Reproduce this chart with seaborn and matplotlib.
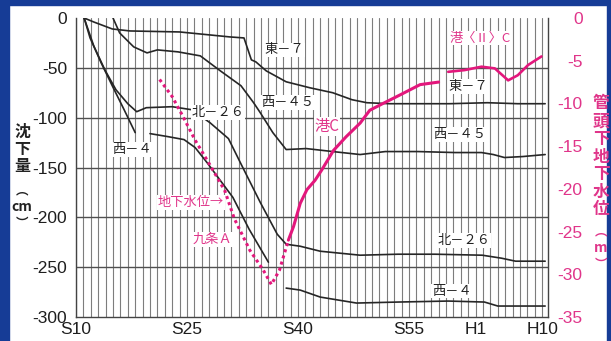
import numpy as np
import pandas as pd
import matplotlib
matplotlib.use("Agg")
import matplotlib.pyplot as plt
from matplotlib.patches import Rectangle
import seaborn as sns

# ---------------- data (years in western calendar; S10=1935, H1=1989) ----------------
tick_years = [1935, 1950, 1965, 1980, 1989, 1998]
tick_labels = ["S10", "S25", "S40", "S55", "H1", "H10"]
left_ticks = [0, -50, -100, -150, -200, -250, -300]
right_ticks = [0, -5, -10, -15, -20, -25, -30, -35]

# subsidence (cm)
higashi7_year = [1936.1, 1937.4, 1939.9, 1942.3, 1949.0, 1953.1, 1955.8, 1957.7, 1958.7, 1959.3,
                 1960.7, 1963.4, 1966.6, 1969.7, 1972.3, 1974.3, 1977.4, 1981.5, 1985.5, 1990.6,
                 1994.7, 1998.4]
higashi7_cm = [0, -4, -11, -13, -14, -17, -19, -20, -42, -44,
               -53, -64, -70, -75, -82, -85, -86, -86, -86, -85,
               -86, -86]

nishi45_year = [1940.0, 1940.9, 1942.8, 1944.6, 1946.0, 1948.8, 1951.8, 1954.5, 1957.3, 1959.0,
                1959.9, 1961.6, 1963.4, 1966.1, 1969.7, 1973.4, 1976.8, 1981.2, 1986.2, 1989.8,
                1991.4, 1992.9, 1995.4, 1998.4]
nishi45_cm = [0, -15, -29, -35, -32, -34, -38, -53, -68, -85,
              -95, -115, -132, -131, -134, -137, -134, -134, -135, -135,
              -137, -140, -139, -137]

kita26_year = [1936.1, 1937.4, 1938.9, 1940.4, 1942.0, 1943.2, 1944.5, 1948.0, 1950.6, 1953.1,
               1955.6, 1957.2, 1959.9, 1962.2, 1963.4, 1965.3, 1968.0, 1973.4, 1978.5, 1983.5,
               1989.9, 1992.5, 1994.4, 1998.4]
kita26_cm = [0, -28, -52, -72, -86, -94, -90, -89, -92, -105,
             -121, -145, -185, -217, -227, -229, -234, -238, -237, -237,
             -238, -241, -244, -244]

nishi4_a_year = [1936.1, 1936.9, 1938.4, 1939.9, 1941.5, 1943.0]
nishi4_a_cm = [0, -20, -45, -68, -92, -115]
nishi4_b_year = [1945.0, 1947.4, 1949.6, 1951.1, 1952.7, 1956.2, 1958.4, 1961.0]
nishi4_b_cm = [-116, -119, -122, -130, -145, -180, -212, -245]
nishi4_c_year = [1963.4, 1965.3, 1968.0, 1972.9, 1978.5, 1985.3, 1990.2, 1992.0, 1998.4]
nishi4_c_cm = [-271, -273, -280, -286, -285, -284, -285, -289, -289]

# groundwater level (m below surface)
kujoA_year = [1946.3, 1948.0, 1949.5, 1951.1, 1953.1, 1955.1, 1956.4, 1958.5, 1960.3, 1961.4,
              1962.5, 1963.7]
kujoA_m = [-7.2, -9.2, -11.6, -14.3, -17.2, -20.2, -23.5, -27.2, -29.5, -31.2,
           -29.5, -26.0]

minatoC_year = [1963.7, 1964.4, 1965.3, 1966.2, 1967.3, 1968.2, 1969.8, 1971.5, 1973.4, 1974.7,
                1976.5, 1978.8, 1981.5, 1984.0]
minatoC_m = [-26.0, -24.4, -21.7, -20.1, -19.0, -17.8, -15.5, -13.9, -12.3, -10.8,
             -10.0, -9.0, -7.8, -7.5]

minato2C_year = [1985.3, 1987.5, 1989.8, 1991.6, 1993.4, 1994.7, 1996.1, 1997.9]
minato2C_m = [-6.3, -6.1, -5.7, -5.9, -7.3, -6.7, -5.5, -4.5]

# ---------------- style ----------------
sns.set_theme(style="white")
plt.rcParams["font.family"] = ["Noto Sans CJK JP", "DejaVu Sans"]
NUM_FONT = ["Liberation Sans Narrow", "Liberation Sans", "DejaVu Sans"]
JP_FONT = ["Noto Sans CJK JP", "DejaVu Sans"]
PINK = "#e3177c"
PINK_TXT = "#e0358a"
BLACK = "#262626"

W, H = 611, 341
fig = plt.figure(figsize=(W / 100, H / 100), dpi=100)
fig.patch.set_facecolor("white")

# blue frame of the slide
fig.patches.append(Rectangle((0, 0), 9 / W, 1, transform=fig.transFigure, color="#163c96", zorder=0))
fig.patches.append(Rectangle((0, 1 - 5 / H), 1, 5 / H, transform=fig.transFigure, color="#163c96", zorder=0))
fig.patches.append(Rectangle((1 - 4 / W, 0), 4 / W, 1, transform=fig.transFigure, color="#163c96", zorder=0))

x0, x1, ytop, ybot = 76, 548, 18, 317
ax = fig.add_axes([x0 / W, (H - ybot) / H, (x1 - x0) / W, (ybot - ytop) / H])
ax.set_facecolor("white")
ax.set_xlim(1935, 1935 + (x1 - x0) / 7.4)
ax.set_ylim(-300, 0)

# grid
for yr in range(1935, 1999):
    ax.axvline(yr, color="#7d7d7d", lw=0.8, zorder=0.5)
for v in left_ticks[1:-1]:
    ax.axhline(v, color="#505050", lw=1.0, zorder=0.6)

def draw(a, xs, ys, **kw):
    df = pd.DataFrame({"x": xs, "y": ys})
    sns.lineplot(data=df, x="x", y="y", ax=a, sort=False, estimator=None, legend=False, **kw)

for xs, ys in [(higashi7_year, higashi7_cm), (nishi45_year, nishi45_cm), (kita26_year, kita26_cm),
               (nishi4_a_year, nishi4_a_cm), (nishi4_b_year, nishi4_b_cm), (nishi4_c_year, nishi4_c_cm)]:
    draw(ax, xs, ys, color=BLACK, lw=1.2, zorder=2)

ax.set_xticks(tick_years)
ax.set_xticklabels(tick_labels)
ax.set_yticks(left_ticks)
ax.set_yticklabels([str(v) for v in left_ticks])
ax.tick_params(axis="both", length=0, labelcolor="#1e1e1e")
ax.tick_params(axis="y", pad=6.5)
ax.tick_params(axis="x", pad=3.5)
for lab in ax.get_xticklabels() + ax.get_yticklabels():
    lab.set_fontfamily(NUM_FONT)
    lab.set_fontsize(12.5)
ax.set_xlabel("")
ax.set_ylabel("")
for s in ["left", "bottom", "right"]:
    ax.spines[s].set_color("#444444")
    ax.spines[s].set_linewidth(1.0)
ax.spines["top"].set_visible(False)

# right axis
ax2 = ax.twinx()
ax2.set_ylim(-35, 0)
draw(ax2, kujoA_year, kujoA_m, color=PINK, lw=2.2, linestyle=(0, (1, 1.1)), zorder=3)
draw(ax2, minatoC_year, minatoC_m, color=PINK, lw=2.2, zorder=3)
draw(ax2, minato2C_year, minato2C_m, color=PINK, lw=1.9, zorder=3)
ax2.set_yticks(right_ticks)
ax2.set_yticklabels([str(v) for v in right_ticks])
ax2.tick_params(axis="y", length=0, labelcolor=PINK_TXT, pad=25)
for lab in ax2.get_yticklabels():
    lab.set_fontfamily(NUM_FONT)
    lab.set_fontsize(12.5)
    lab.set_horizontalalignment("right")
ax2.set_ylabel("")
ax2.set_xlabel("")
for s in ["top", "left", "bottom", "right"]:
    ax2.spines[s].set_visible(False)

# series labels (cm coords on left axis)
box = dict(facecolor="white", edgecolor="none", pad=0.6)
black_labels = [
    ("東－７", 1963.2, -32), ("西－４５", 1963.6, -85), ("北－２６", 1954.2, -95), ("西－４", 1942.6, -132),
    ("東－７", 1988.0, -69), ("西－４５", 1986.9, -117), ("北－２６", 1987.4, -223), ("西－４", 1985.8, -274),
]
for t, xx, yy in black_labels:
    ax.text(xx, yy, t, fontsize=9.5, color="#222222", ha="center", va="center",
            family=JP_FONT, bbox=box, zorder=4)
pink_labels = [
    ("地下水位→", 1950.5, -185, 9.5), ("九条Ａ", 1953.4, -222, 9.5),
    ("港C", 1968.9, -109, 11), ("港〈Ⅱ〉C", 1989.6, -20, 9.5),
]
for t, xx, yy, fs in pink_labels:
    ax.text(xx, yy, t, fontsize=fs, color=PINK_TXT, ha="center", va="center",
            family=JP_FONT, bbox=box, zorder=4)

# vertical axis titles
for ch, yy, fs in [("沈", 132, 11.5), ("下", 149, 11.5), ("量", 166, 11.5),
                   ("︵", 191, 9), ("cm", 207, 10), ("︶", 223, 9)]:
    fig.text(22 / W, 1 - yy / H, ch, fontsize=fs, fontweight="bold",
             color="#222222", ha="center", va="center", family=JP_FONT)
for ch, yy, fs in [("管", 103, 12), ("頭", 121, 12), ("下", 139, 12), ("地", 157, 12), ("下", 174, 12),
                   ("水", 192, 12), ("位", 209, 12), ("︵", 232, 9), ("m", 248, 10), ("︶", 264, 9)]:
    fig.text(601 / W, 1 - yy / H, ch, fontsize=fs, fontweight="bold",
             color=PINK_TXT, ha="center", va="center", family=JP_FONT)

fig.savefig("out.png", dpi=100, facecolor=fig.get_facecolor())
